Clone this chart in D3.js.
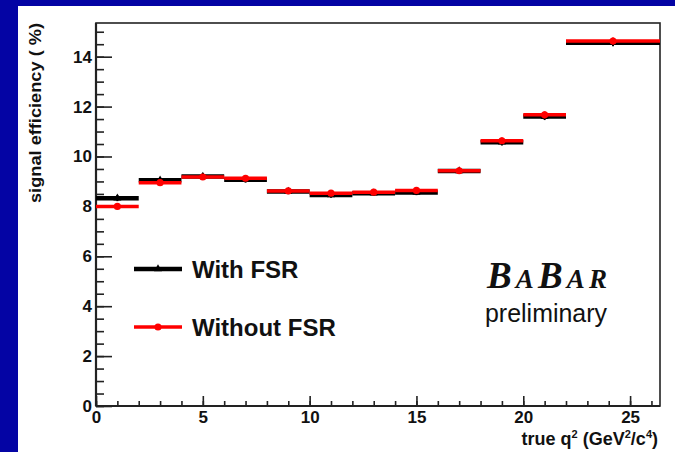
<!DOCTYPE html>
<html>
<head>
<meta charset="utf-8">
<script src="https://cdn.jsdelivr.net/npm/d3@7"></script>
<style>
  html, body { margin: 0; padding: 0; background: #0404a4; }
  svg { display: block; }
  text { font-family: "Liberation Sans", Arial, sans-serif; fill: #111; }
</style>
</head>
<body>
<div id="chart"></div>
<script>
// bins in true q^2 (GeV^2/c^4)
var binLow  = [0, 2, 4, 6, 8, 10, 12, 14, 16, 18, 20, 22];
var binHigh = [2, 4, 6, 8, 10, 12, 14, 16, 18, 20, 22, 26.4];

// signal efficiency (%)
var withFSR    = [8.33, 9.05, 9.20, 9.07, 8.60, 8.46, 8.53, 8.56, 9.42, 10.57, 11.60, 14.56];
var withoutFSR = [8.00, 8.95, 9.18, 9.13, 8.62, 8.53, 8.57, 8.64, 9.43, 10.63, 11.67, 14.63];
var errWith    = [0.12, 0.12, 0.12, 0.12, 0.11, 0.11, 0.11, 0.11, 0.12, 0.13, 0.14, 0.14];
var errWithout = [0.12, 0.12, 0.12, 0.12, 0.11, 0.11, 0.11, 0.11, 0.12, 0.13, 0.14, 0.14];

var xMajorTicks = [0, 5, 10, 15, 20, 25];
var yMajorTicks = [0, 2, 4, 6, 8, 10, 12, 14];

var svgWidth = 675;
var svgHeight = 452;

var margin = {
  top: 23,
  right: 15,
  bottom: 46,
  left: 96
};

var width = svgWidth - margin.left - margin.right;
var height = svgHeight - margin.top - margin.bottom;

var svg = d3.select("#chart")
  .append("svg")
  .attr("width", svgWidth)
  .attr("height", svgHeight);

// white slide panel on blue background
svg.append("rect")
  .attr("x", 18)
  .attr("y", 6)
  .attr("width", svgWidth - 18)
  .attr("height", svgHeight - 6)
  .attr("fill", "#ffffff");

var chartGroup = svg.append("g")
  .attr("transform", `translate(${margin.left}, ${margin.top})`);

var xScale = d3.scaleLinear().domain([0, 26.4]).range([0, width]);
var yScale = d3.scaleLinear().domain([0, 15.35]).range([height, 0]);

// minor ticks first
var xMinor = d3.axisBottom(xScale)
  .tickValues(d3.range(0, 27, 1))
  .tickSize(-5)
  .tickFormat("");
var yMinor = d3.axisLeft(yScale)
  .tickValues(d3.range(0, 15.5, 0.5))
  .tickSize(-8)
  .tickFormat("");

chartGroup.append("g")
  .attr("transform", `translate(0, ${height})`)
  .call(xMinor);
chartGroup.append("g").call(yMinor);

var xAxis = chartGroup.append("g")
  .attr("transform", `translate(0, ${height})`)
  .call(d3.axisBottom(xScale).tickValues(xMajorTicks).tickSize(-10).tickPadding(5));

var yAxis = chartGroup.append("g")
  .call(d3.axisLeft(yScale).tickValues(yMajorTicks).tickSize(-16).tickPadding(4));

chartGroup.selectAll(".domain").remove();
chartGroup.selectAll(".tick line")
  .attr("stroke", "#222")
  .attr("stroke-width", 1.6);
chartGroup.selectAll(".tick text")
  .style("font-size", "17px")
  .style("font-weight", "bold")
  .attr("fill", "#111");

// frame
chartGroup.append("rect")
  .attr("x", 0)
  .attr("y", 0)
  .attr("width", width)
  .attr("height", height)
  .attr("fill", "none")
  .attr("stroke", "#222")
  .attr("stroke-width", 1.6);
chartGroup.append("line")
  .attr("x1", 0).attr("x2", width)
  .attr("y1", height).attr("y2", height)
  .attr("stroke", "#222").attr("stroke-width", 2.2);
chartGroup.append("line")
  .attr("x1", 0).attr("x2", 0)
  .attr("y1", 0).attr("y2", height)
  .attr("stroke", "#222").attr("stroke-width", 2.2);

// histogram series
function drawSeries(values, errs, color, lineWidth, marker) {
  var g = chartGroup.append("g");
  var rows = values.map(function(v, i) {
    return { lo: binLow[i], hi: binHigh[i], v: v, e: errs[i] };
  });

  g.selectAll("line.bin")
    .data(rows)
    .enter()
    .append("line")
    .attr("class", "bin")
    .attr("x1", d => xScale(d.lo))
    .attr("x2", d => xScale(d.hi))
    .attr("y1", d => yScale(d.v))
    .attr("y2", d => yScale(d.v))
    .attr("stroke", color)
    .attr("stroke-width", lineWidth);

  g.selectAll("line.err")
    .data(rows)
    .enter()
    .append("line")
    .attr("class", "err")
    .attr("x1", d => xScale((d.lo + d.hi) / 2))
    .attr("x2", d => xScale((d.lo + d.hi) / 2))
    .attr("y1", d => yScale(d.v - d.e))
    .attr("y2", d => yScale(d.v + d.e))
    .attr("stroke", color)
    .attr("stroke-width", 2);

  g.selectAll("path.marker")
    .data(rows)
    .enter()
    .append("path")
    .attr("class", "marker")
    .attr("transform", d => `translate(${xScale((d.lo + d.hi) / 2)}, ${yScale(d.v)})`)
    .attr("d", d3.symbol().type(marker).size(marker === d3.symbolCircle ? 40 : 28))
    .attr("fill", color);
}

drawSeries(withFSR, errWith, "#000000", 4.5, d3.symbolTriangle);
drawSeries(withoutFSR, errWithout, "#ff0000", 3.5, d3.symbolCircle);

// legend
var legend = svg.append("g");
var legendItems = [
  { label: "With FSR", color: "#000000", width: 4.5, marker: d3.symbolTriangle, y: 269 },
  { label: "Without FSR", color: "#ff0000", width: 3.5, marker: d3.symbolCircle, y: 327 }
];
legendItems.forEach(function(item) {
  legend.append("line")
    .attr("x1", 134).attr("x2", 182)
    .attr("y1", item.y).attr("y2", item.y)
    .attr("stroke", item.color)
    .attr("stroke-width", item.width);
  legend.append("path")
    .attr("transform", `translate(158, ${item.y})`)
    .attr("d", d3.symbol().type(item.marker).size(item.marker === d3.symbolCircle ? 40 : 28))
    .attr("fill", item.color);
  legend.append("text")
    .attr("x", 192)
    .attr("y", item.y + 9)
    .style("font-size", "24px")
    .style("font-weight", "bold")
    .text(item.label);
});

// BaBar logo
var logo = svg.append("text")
  .attr("x", 487)
  .attr("y", 288)
  .attr("textLength", 120)
  .attr("lengthAdjust", "spacing")
  .style("font-family", "'Liberation Serif', 'Times New Roman', serif")
  .style("font-style", "italic")
  .style("font-weight", "bold");
logo.append("tspan").style("font-size", "37px").text("B");
logo.append("tspan").style("font-size", "27px").text("A");
logo.append("tspan").style("font-size", "37px").text("B");
logo.append("tspan").style("font-size", "27px").text("AR");

svg.append("text")
  .attr("x", 485)
  .attr("y", 322)
  .attr("textLength", 122)
  .attr("lengthAdjust", "spacingAndGlyphs")
  .style("font-size", "26px")
  .attr("fill", "#222")
  .text("preliminary");

// axis titles
var xTitle = svg.append("text")
  .attr("x", 658)
  .attr("y", 445)
  .attr("text-anchor", "end")
  .style("font-size", "18px")
  .style("font-weight", "bold");
xTitle.append("tspan").text("true q");
xTitle.append("tspan").attr("dy", -7).style("font-size", "11px").text("2");
xTitle.append("tspan").attr("dy", 7).text(" (GeV");
xTitle.append("tspan").attr("dy", -7).style("font-size", "11px").text("2");
xTitle.append("tspan").attr("dy", 7).text("/c");
xTitle.append("tspan").attr("dy", -7).style("font-size", "11px").text("4");
xTitle.append("tspan").attr("dy", 7).text(")");

svg.append("text")
  .attr("transform", "translate(41, 23) rotate(-90)")
  .attr("text-anchor", "end")
  .attr("textLength", 180)
  .attr("lengthAdjust", "spacingAndGlyphs")
  .style("font-size", "17px")
  .style("font-weight", "bold")
  .text("signal efficiency ( %)");
</script>
</body>
</html>
